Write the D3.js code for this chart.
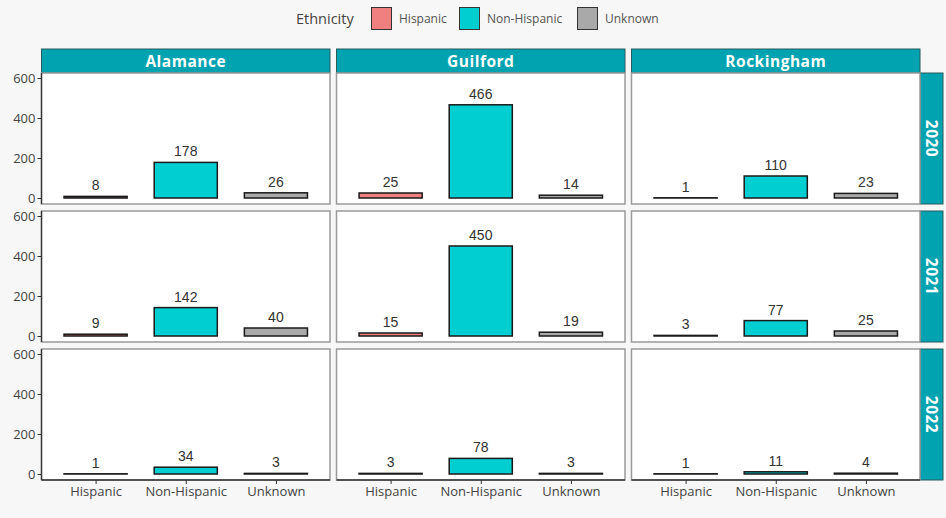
<!DOCTYPE html>
<html>
<head>
<meta charset="utf-8">
<script src="https://cdn.jsdelivr.net/npm/d3@7"></script>
<style>
  html, body { margin: 0; padding: 0; background: #f7f7f7; }
  svg { display: block; }
</style>
</head>
<body>
<svg id="chart" width="946" height="518"></svg>
<script>
// Counts by county (columns) and year (rows), split by ethnicity
const counties = ["Alamance", "Guilford", "Rockingham"];
const years = ["2020", "2021", "2022"];
const ethnicities = ["Hispanic", "Non-Hispanic", "Unknown"];
const yTicks = [0, 200, 400, 600];

// each inner array: Hispanic, Non-Hispanic, Unknown
const counts2020 = [[8, 178, 26], [25, 466, 14], [1, 110, 23]];
const counts2021 = [[9, 142, 40], [15, 450, 19], [3, 77, 25]];
const counts2022 = [[1, 34, 3], [3, 78, 3], [1, 11, 4]];
const countsByYear = [counts2020, counts2021, counts2022];

const fillColors = ["#f08080", "#00ced1", "#a9a9a9"];
const stripFill = "#00a3af";

const svg = d3.select("#chart");

const color = d3.scaleOrdinal().domain(ethnicities).range(fillColors);

// facet layout
const panelLeft = 41.5, panelW = 288.5, colGap = 6.5;
const panelTop = 73, panelH = 131, rowGap = 7;
const stripH = 24, rStripW = 23;

const colX = i => panelLeft + i * (panelW + colGap);
const rowY = j => panelTop + j * (panelH + rowGap);

const x = d3.scalePoint().domain(ethnicities).range([0, panelW]).padding(0.6);
const step = x.step();
const barW = step * 0.7;
const y = d3.scaleLinear().domain([0, 600]).range([125, 5]);

const tickFont = "'Open Sans', 'DejaVu Sans', sans-serif";

// legend
const legend = svg.append("g");
legend.append("text").attr("x", 296).attr("y", 24)
  .attr("font-family", tickFont).attr("font-size", 14.5).attr("fill", "#444")
  .text("Ethnicity");
const legendKeys = [371, 459, 577];
ethnicities.forEach((e, i) => {
  const g = legend.append("g").attr("transform", `translate(${legendKeys[i]},7)`);
  g.append("rect").attr("x", 0.5).attr("y", 0.5).attr("width", 20).attr("height", 22)
    .attr("fill", color(e)).attr("stroke", "#333").attr("stroke-width", 1);
  g.append("text").attr("x", 28).attr("y", 16)
    .attr("font-family", tickFont).attr("font-size", 12).attr("fill", "#555")
    .text(e);
});

// column strips
counties.forEach((c, i) => {
  const g = svg.append("g").attr("transform", `translate(${colX(i)},${panelTop - stripH})`);
  g.append("rect").attr("width", panelW).attr("height", stripH)
    .attr("fill", stripFill).attr("stroke", "#2b5a5e").attr("stroke-width", 1);
  g.append("text").attr("x", panelW / 2).attr("y", stripH / 2 + 5.5)
    .attr("text-anchor", "middle").attr("fill", "#fff")
    .attr("font-family", "'Open Sans', 'DejaVu Sans', sans-serif")
    .attr("font-weight", "bold").attr("font-size", 15.5).attr("letter-spacing", 0.5)
    .text(c);
});

// row strips on the right
years.forEach((yr, j) => {
  const sx = colX(2) + panelW;
  const g = svg.append("g").attr("transform", `translate(${sx},${rowY(j)})`);
  g.append("rect").attr("width", rStripW).attr("height", panelH)
    .attr("fill", stripFill).attr("stroke", "#2b5a5e").attr("stroke-width", 1);
  g.append("text")
    .attr("transform", `translate(${rStripW / 2 - 5.5},${panelH / 2}) rotate(90)`)
    .attr("text-anchor", "middle").attr("fill", "#fff")
    .attr("font-family", "'Open Sans', 'DejaVu Sans', sans-serif")
    .attr("font-weight", "bold").attr("font-size", 15.5).attr("letter-spacing", 0.5)
    .text(yr);
});

// panels
years.forEach((yr, j) => {
  counties.forEach((c, i) => {
    const vals = countsByYear[j][i];
    const g = svg.append("g").attr("transform", `translate(${colX(i)},${rowY(j)})`);
    g.append("rect").attr("width", panelW).attr("height", panelH)
      .attr("fill", "#fff").attr("stroke", "#9a9a9a").attr("stroke-width", 1.5);

    g.selectAll("rect.bar").data(ethnicities).join("rect")
      .attr("class", "bar")
      .attr("x", e => x(e) - barW / 2)
      .attr("width", barW)
      .attr("y", (e, k) => y(vals[k]))
      .attr("height", (e, k) => y(0) - y(vals[k]))
      .attr("fill", e => color(e))
      .attr("stroke", "#1a1a1a").attr("stroke-width", 1.5);

    g.selectAll("text.val").data(ethnicities).join("text")
      .attr("class", "val")
      .attr("x", e => x(e))
      .attr("y", (e, k) => y(vals[k]) - 6)
      .attr("text-anchor", "middle")
      .attr("font-family", "'Liberation Sans', Arial, sans-serif")
      .attr("font-size", 14).attr("fill", "#333")
      .text((e, k) => vals[k]);

    // y axis on the first column
    if (i === 0) {
      const ax = g.append("g").call(d3.axisLeft(y).tickValues(yTicks).tickSize(4).tickPadding(2));
      ax.select(".domain").attr("stroke", "#333").attr("stroke-width", 1.3)
        .attr("d", `M0,0V${panelH}`);
      ax.selectAll(".tick line").attr("stroke", "#333");
      ax.selectAll(".tick text").attr("font-family", tickFont).attr("font-size", 13).attr("fill", "#444");
    }
    // x axis on the bottom row
    if (j === years.length - 1) {
      const ax = g.append("g").attr("transform", `translate(0,${panelH})`)
        .call(d3.axisBottom(x).tickSize(4).tickPadding(3));
      ax.select(".domain").attr("stroke", "#333").attr("stroke-width", 1.3)
        .attr("d", `M0,0H${panelW}`);
      ax.selectAll(".tick line").attr("stroke", "#333");
      ax.selectAll(".tick text").attr("font-family", tickFont).attr("font-size", 13).attr("fill", "#444");
    }
  });
});
</script>
</body>
</html>
